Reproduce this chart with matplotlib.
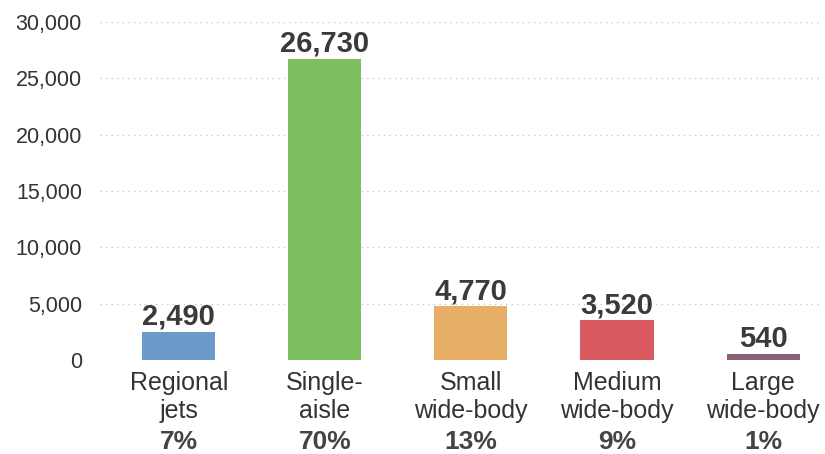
import matplotlib
matplotlib.use("Agg")
import matplotlib.pyplot as plt

categories = ["Regional\njets", "Single-\naisle", "Small\nwide-body", "Medium\nwide-body", "Large\nwide-body"]
values = [2490, 26730, 4770, 3520, 540]
shares = ["7%", "70%", "13%", "9%", "1%"]
colors = ["#6b9bc8", "#7dbf5f", "#e7ae67", "#d95b60", "#8c5f78"]
yticks = [0, 5000, 10000, 15000, 20000, 25000, 30000]

plt.rcParams['font.family'] = ['Liberation Sans', 'DejaVu Sans']

fig = plt.figure(figsize=(8.25, 4.54), dpi=100)
ax = fig.add_axes([100/825, 94/454, 720/825, 338/454])

x = list(range(len(categories)))
ax.bar(x, values, width=0.5, color=colors, zorder=3)

ax.set_xlim(-0.54, 4.39)
ax.set_ylim(0, 30000)
ax.set_yticks(yticks)
ax.set_yticklabels([f"{v:,}" for v in yticks], fontsize=15.5, color="#333333")
ax.tick_params(axis='y', length=0, pad=13)
ax.set_xticks([])
for s in ax.spines.values():
    s.set_visible(False)
ax.grid(axis='y', linestyle=(0, (1, 3)), color="#c8c8c8", linewidth=1, zorder=0)

for i, v in enumerate(values):
    ax.annotate(f"{v:,}", (i, v), xytext=(0, 7), textcoords='offset pixels',
                ha='center', va='baseline', fontsize=21, fontweight='bold', color="#3a3a3a")
    l1, l2 = categories[i].split("\n")
    ax.annotate(l1, (i, 0), xytext=(0, -30), textcoords='offset pixels',
                ha='center', va='baseline', fontsize=18, color="#333333")
    ax.annotate(l2, (i, 0), xytext=(0, -58), textcoords='offset pixels',
                ha='center', va='baseline', fontsize=18, color="#333333")
    ax.annotate(shares[i], (i, 0), xytext=(0, -89), textcoords='offset pixels',
                ha='center', va='baseline', fontsize=19, fontweight='bold', color="#444444",
                annotation_clip=False)

fig.savefig("out.png", dpi=100)
